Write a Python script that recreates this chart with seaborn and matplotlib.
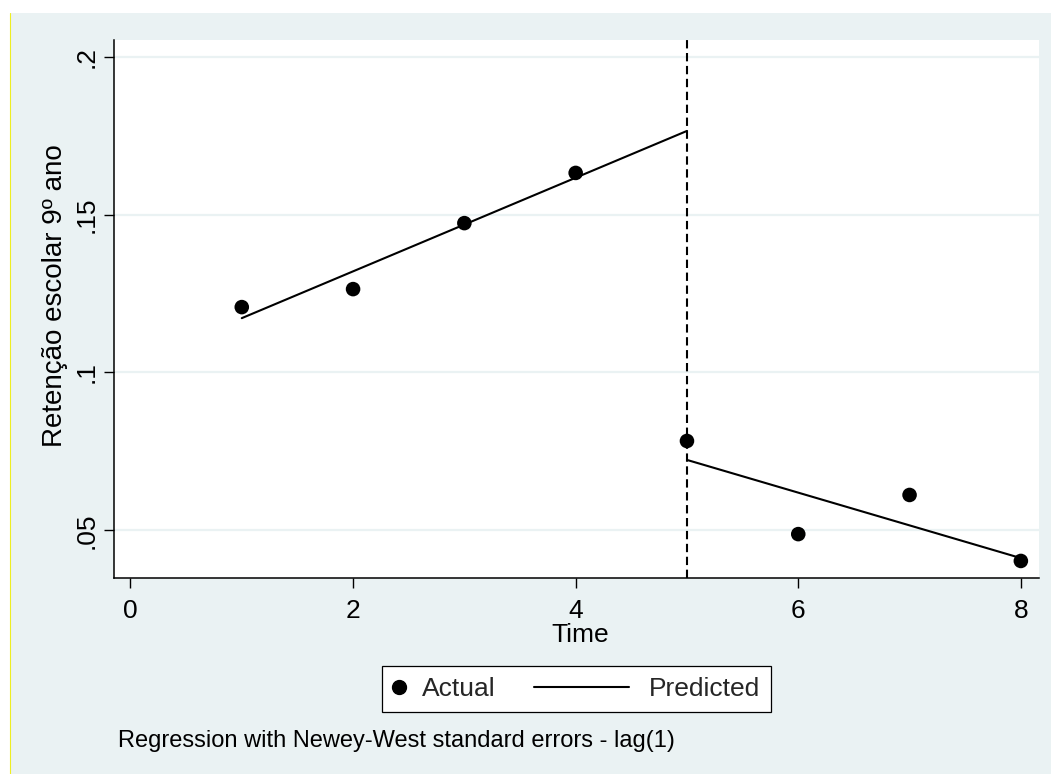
import matplotlib
matplotlib.use("Agg")
import matplotlib.pyplot as plt
from matplotlib.patches import Rectangle
from matplotlib.lines import Line2D
from matplotlib.legend_handler import HandlerLine2D
import numpy as np
import pandas as pd
import seaborn as sns

# Observed outcome by time period
time = [1, 2, 3, 4, 5, 6, 7, 8]
actual = [0.1207, 0.1264, 0.1473, 0.1632, 0.0783, 0.0488, 0.0612, 0.0403]

# Fitted segments before and after the interruption (endpoints)
pred_time_pre = [1, 5]
pred_value_pre = [0.1172, 0.1765]
pred_time_post = [5, 8]
pred_value_post = [0.0723, 0.0412]

interruption = 5
x_ticks = [0, 2, 4, 6, 8]
y_ticks = [0.05, 0.10, 0.15, 0.20]
y_tick_labels = [".05", ".1", ".15", ".2"]

x_label = "Time"
y_label = "Retenção escolar 9º ano"
legend_labels = ["Actual", "Predicted"]
note = "Regression with Newey-West standard errors - lag(1)"

BG = "#EAF2F3"
W, H = 1051, 774

sns.set_theme(style="ticks")
plt.rcParams["font.family"] = ["Liberation Sans", "DejaVu Sans"]

fig = plt.figure(figsize=(W / 100, H / 100), dpi=100)
fig.patch.set_facecolor("white")
fig.patches.append(Rectangle((10 / W, 0), 1 - 10 / W, (H - 13) / H,
                             transform=fig.transFigure, facecolor=BG,
                             edgecolor="none", zorder=-10))
fig.lines.append(Line2D([9.5 / W, 9.5 / W], [0, (H - 13) / H],
                        transform=fig.transFigure, color="#EEEE22", lw=0.8))

ax = fig.add_axes([114 / W, (H - 578) / H, (1039 - 114) / W, (578 - 40) / H])
ax.set_facecolor("white")

df_actual = pd.DataFrame({"time": time, "value": actual})
df_pred = pd.DataFrame({
    "time": pred_time_pre + pred_time_post,
    "value": pred_value_pre + pred_value_post,
    "segment": ["pre"] * len(pred_time_pre) + ["post"] * len(pred_time_post),
})

sns.lineplot(data=df_pred, x="time", y="value", units="segment",
             estimator=None, color="black", lw=1.5, ax=ax, zorder=3)
sns.scatterplot(data=df_actual, x="time", y="value", color="black",
                s=110, edgecolor="none", ax=ax, zorder=4)
ax.axvline(interruption, color="black", lw=1.5, ls=(0, (4, 2.2)), zorder=2)

ax.set_xlim(-0.148, 8.163)
ax.set_ylim(0.0349, 0.2053)
ax.set_xticks(x_ticks)
ax.set_yticks(y_ticks)
ax.set_yticklabels(y_tick_labels, rotation=90, va="center")
ax.grid(axis="y", color=BG, lw=1.6, zorder=0)
ax.set_axisbelow(True)

for side in ("top", "right"):
    ax.spines[side].set_visible(False)
for side in ("left", "bottom"):
    ax.spines[side].set_color("black")
    ax.spines[side].set_linewidth(1.1)

ax.tick_params(axis="both", length=7, width=1, color="black",
               labelcolor="black", labelsize=19)
ax.tick_params(axis="x", pad=8)
ax.tick_params(axis="y", pad=4)

ax.set_xlabel(x_label, fontsize=19, color="black")
ax.xaxis.set_label_coords((580 - 114) / 925, (578 - 623) / 538)
ax.set_ylabel(y_label, fontsize=20, color="black")
ax.yaxis.set_label_coords((68 - 114) / 925, (578 - 296) / 538)


class LongLineHandler(HandlerLine2D):
    """Draws the legend line longer than the handle box, extending left."""

    def __init__(self, length_pt, shift_pt, **kw):
        super().__init__(**kw)
        self.length_pt = length_pt
        self.shift_pt = shift_pt

    def create_artists(self, legend, orig_handle, xdescent, ydescent,
                       width, height, fontsize, trans):
        extra = self.length_pt - width
        return super().create_artists(legend, orig_handle,
                                      xdescent + extra + self.shift_pt,
                                      ydescent, self.length_pt, height,
                                      fontsize, trans)


h_actual = Line2D([], [], marker="o", ls="none", color="black", markersize=10)
h_pred = Line2D([], [], color="black", lw=1.5)
leg = fig.legend([h_actual, h_pred], legend_labels, ncol=2,
                 loc="center", bbox_to_anchor=(576.5 / W, (H - 689) / H),
                 fontsize=19, frameon=True, fancybox=False,
                 handlelength=0.45, handletextpad=0.65, columnspacing=4.72,
                 borderpad=0.42,
                 handler_map={h_pred: LongLineHandler(68.4, 2.1)})
leg.get_frame().set_edgecolor("black")
leg.get_frame().set_linewidth(0.9)
leg.get_frame().set_facecolor("white")
leg.get_frame().set_alpha(1)

fig.text(118 / W, (H - 741) / H, note, fontsize=17, va="center",
         ha="left", color="black")

fig.savefig("out.png", dpi=100, facecolor=fig.get_facecolor())
